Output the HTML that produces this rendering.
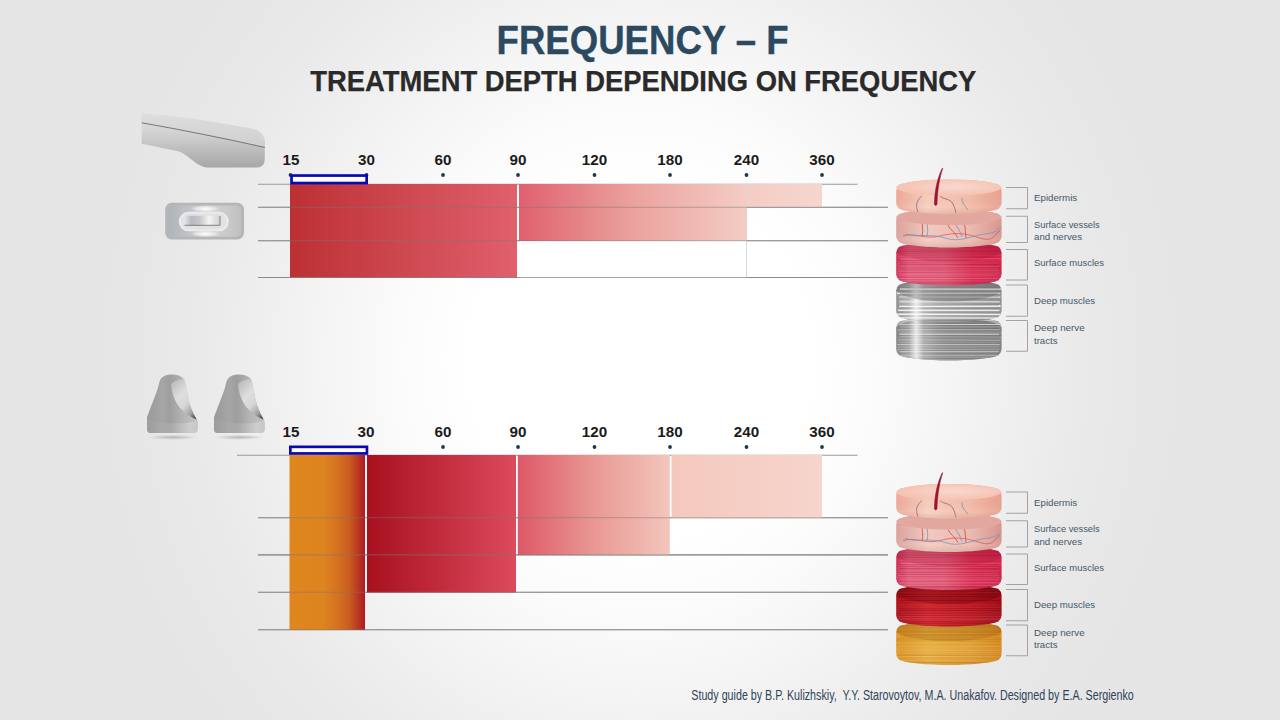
<!DOCTYPE html>
<html><head><meta charset="utf-8">
<style>
html,body{margin:0;padding:0;width:1280px;height:720px;overflow:hidden;}
body{background:radial-gradient(ellipse 600px 630px at 640px 360px,#ffffff 0%,#ffffff 28%,#fbfbfb 40%,#f6f6f6 50%,#f2f2f2 57%,#ededed 67%,#e9e9e9 75%,#e6e6e6 87%,#e5e5e5 100%);font-family:"Liberation Sans",sans-serif;}
svg{position:absolute;left:0;top:0;}
</style></head>
<body>
<svg width="1280" height="720" viewBox="0 0 1280 720" font-family="Liberation Sans, sans-serif">
<defs>
  <linearGradient id="gRed1" x1="0" x2="1" y1="0" y2="0">
    <stop offset="0" stop-color="#bc3034"/><stop offset="1" stop-color="#e0606c"/>
  </linearGradient>
  <linearGradient id="gPink1" x1="0" x2="1" y1="0" y2="0">
    <stop offset="0" stop-color="#e0606e"/><stop offset="0.5" stop-color="#eba29e"/><stop offset="1" stop-color="#f4cdc4"/>
  </linearGradient>
  <linearGradient id="gPale1" x1="0" x2="1" y1="0" y2="0">
    <stop offset="0" stop-color="#f4cdc4"/><stop offset="1" stop-color="#f6d6ce"/>
  </linearGradient>
  <linearGradient id="gOrange" x1="0" x2="1" y1="0" y2="0">
    <stop offset="0" stop-color="#e0861e"/><stop offset="0.45" stop-color="#dd8420"/><stop offset="0.65" stop-color="#d4701f"/><stop offset="0.8" stop-color="#c85a20"/><stop offset="0.9" stop-color="#bc3a22"/><stop offset="1" stop-color="#ac1a24"/>
  </linearGradient>
  <linearGradient id="gRed2" x1="0" x2="1" y1="0" y2="0">
    <stop offset="0" stop-color="#a8101e"/><stop offset="1" stop-color="#dc4a5c"/>
  </linearGradient>
  <linearGradient id="gPink2" x1="0" x2="1" y1="0" y2="0">
    <stop offset="0" stop-color="#de5868"/><stop offset="0.5" stop-color="#e99894"/><stop offset="1" stop-color="#f3c6bc"/>
  </linearGradient>
  <linearGradient id="gPale2" x1="0" x2="1" y1="0" y2="0">
    <stop offset="0" stop-color="#f4c8bd"/><stop offset="1" stop-color="#f6d5cd"/>
  </linearGradient>

  <linearGradient id="vshade" x1="0" x2="0" y1="0" y2="1">
    <stop offset="0" stop-color="#000" stop-opacity="0.10"/><stop offset="0.35" stop-color="#000" stop-opacity="0"/>
    <stop offset="0.8" stop-color="#fff" stop-opacity="0.06"/><stop offset="1" stop-color="#000" stop-opacity="0.08"/>
  </linearGradient>
  <radialGradient id="topface" cx="0.55" cy="0.45" r="0.5">
    <stop offset="0" stop-color="#fff" stop-opacity="0.35"/><stop offset="1" stop-color="#fff" stop-opacity="0"/>
  </radialGradient>
  <linearGradient id="hpTop" x1="0" x2="0" y1="0" y2="1">
    <stop offset="0" stop-color="#dedede"/><stop offset="1" stop-color="#cecece"/>
  </linearGradient>
  <linearGradient id="hpBot" x1="0" x2="0" y1="0" y2="1">
    <stop offset="0" stop-color="#e6e6e6"/><stop offset="0.45" stop-color="#cdcdcd"/><stop offset="1" stop-color="#a6a6a6"/>
  </linearGradient>
  <linearGradient id="hpRing" x1="0" x2="1" y1="0" y2="0">
    <stop offset="0" stop-color="#b0b4ba"/><stop offset="0.3" stop-color="#c0c4c8"/><stop offset="0.55" stop-color="#d4d4d4"/><stop offset="0.8" stop-color="#cacaca"/><stop offset="1" stop-color="#c0c0c0"/>
  </linearGradient>
  <linearGradient id="hpSlot" x1="0" x2="1" y1="0" y2="0">
    <stop offset="0" stop-color="#e8e8ec"/><stop offset="0.2" stop-color="#b8b8c0"/><stop offset="0.45" stop-color="#c8c8cc"/><stop offset="0.7" stop-color="#f4f4f4"/><stop offset="1" stop-color="#d0d0d0"/>
  </linearGradient>
  <linearGradient id="nzBody" x1="0" x2="1" y1="0" y2="0">
    <stop offset="0" stop-color="#999999"/><stop offset="0.3" stop-color="#a6a6a6"/><stop offset="0.45" stop-color="#9e9e9e"/><stop offset="0.7" stop-color="#b4b4b4"/><stop offset="1" stop-color="#c4c4c4"/>
  </linearGradient>
  <linearGradient id="nzScoop" x1="0.2" x2="0.9" y1="0" y2="1">
    <stop offset="0" stop-color="#bdbdbd"/><stop offset="0.35" stop-color="#dedede"/><stop offset="0.6" stop-color="#d6d6d6"/><stop offset="0.85" stop-color="#a0a0a0"/><stop offset="1" stop-color="#4a4a4a"/>
  </linearGradient>
  <linearGradient id="nzBase" x1="0" x2="1" y1="0" y2="0">
    <stop offset="0" stop-color="#a0a0a0"/><stop offset="0.5" stop-color="#b4b4b4"/><stop offset="0.85" stop-color="#e0e0e0"/><stop offset="1" stop-color="#c8c8c8"/>
  </linearGradient>
  <radialGradient id="nzShadow" cx="0.5" cy="0.5" r="0.5">
    <stop offset="0" stop-color="#a0a0a0" stop-opacity="0.7"/><stop offset="1" stop-color="#a0a0a0" stop-opacity="0"/>
  </radialGradient>
  <linearGradient id="grayHL" x1="0" x2="1" y1="0" y2="0">
    <stop offset="0" stop-color="#fff" stop-opacity="0"/><stop offset="0.12" stop-color="#fff" stop-opacity="0.15"/><stop offset="0.19" stop-color="#fff" stop-opacity="0.75"/><stop offset="0.26" stop-color="#fff" stop-opacity="0.15"/><stop offset="0.4" stop-color="#fff" stop-opacity="0"/>
  </linearGradient>
  <linearGradient id="hpRingV" x1="0" x2="0" y1="0" y2="1">
    <stop offset="0" stop-color="#fff" stop-opacity="0.1"/><stop offset="0.18" stop-color="#fff" stop-opacity="0.7"/><stop offset="0.35" stop-color="#fff" stop-opacity="0"/><stop offset="0.7" stop-color="#fff" stop-opacity="0"/><stop offset="0.85" stop-color="#fff" stop-opacity="0.7"/><stop offset="1" stop-color="#fff" stop-opacity="0.1"/>
  </linearGradient>
  <radialGradient id="hlSpot" cx="0.5" cy="0.5" r="0.5">
    <stop offset="0" stop-color="#fff" stop-opacity="0.95"/><stop offset="0.6" stop-color="#fff" stop-opacity="0.5"/><stop offset="1" stop-color="#fff" stop-opacity="0"/>
  </radialGradient>
</defs>

<!-- Titles -->
<text x="642.6" y="54" text-anchor="middle" font-size="40.5" font-weight="bold" fill="#2b4960" stroke="#2b4960" stroke-width="0.35" textLength="292" lengthAdjust="spacingAndGlyphs">FREQUENCY – F</text>
<text x="643.3" y="91.3" text-anchor="middle" font-size="29.5" font-weight="bold" fill="#2a2a2a" stroke="#2a2a2a" stroke-width="0.25" textLength="666" lengthAdjust="spacingAndGlyphs">TREATMENT DEPTH DEPENDING ON FREQUENCY</text>

<!-- ============ TOP CHART ============ -->
<g id="top">
  <g stroke="#9a9a9a" stroke-width="1.1">
    <line x1="258" y1="184.2" x2="857.5" y2="184.2"/>
    <line x1="258" y1="207.2" x2="888" y2="207.2"/>
    <line x1="258" y1="240.8" x2="888" y2="240.8"/>
    <line x1="258" y1="277.5" x2="888" y2="277.5"/>
  </g>
  <!-- bars -->
  <rect x="290" y="184" width="227" height="93.5" fill="url(#gRed1)"/>
  <rect x="519" y="184" width="227.5" height="57" fill="url(#gPink1)"/>
  <rect x="747" y="184" width="75" height="23" fill="url(#gPale1)"/>
  <rect x="519" y="241" width="227.5" height="36.5" fill="#ffffff"/>
  <line x1="746.5" y1="184" x2="746.5" y2="277.5" stroke="#d8d8d8" stroke-width="1"/>
  <!-- lines -->
  <g stroke="#7a7a7a" stroke-width="1.1" stroke-opacity="0.5">
    <line x1="258" y1="207.2" x2="888" y2="207.2"/>
    <line x1="258" y1="240.8" x2="888" y2="240.8"/>
    <line x1="258" y1="277.5" x2="888" y2="277.5"/>
  </g>
  <!-- labels -->
  <g font-size="15.2" font-weight="bold" fill="#1b1b1b" text-anchor="middle">
    <text x="291" y="165">15</text>
    <text x="366.5" y="165">30</text>
    <text x="443" y="165">60</text>
    <text x="518" y="165">90</text>
    <text x="594.5" y="165">120</text>
    <text x="670" y="165">180</text>
    <text x="746.5" y="165">240</text>
    <text x="822" y="165">360</text>
  </g>
  <g fill="#1d3a4c">
    <circle cx="290.5" cy="175" r="1.9"/><circle cx="366.5" cy="175" r="1.9"/><circle cx="443" cy="175" r="1.9"/>
    <circle cx="518" cy="175" r="1.9"/><circle cx="594.5" cy="175" r="1.9"/><circle cx="670" cy="175" r="1.9"/>
    <circle cx="746.5" cy="175" r="1.9"/><circle cx="822" cy="175" r="1.9"/>
  </g>
  <rect x="291.55" y="175.55" width="75.1" height="7.5" fill="#ffffff" stroke="#0808b4" stroke-width="2.7"/>
</g>

<!-- ============ BOTTOM CHART ============ -->
<g id="bottom">
  <g stroke="#9a9a9a" stroke-width="1.1">
    <line x1="237" y1="455.3" x2="857.5" y2="455.3"/>
    <line x1="258" y1="517.8" x2="888" y2="517.8"/>
    <line x1="258" y1="554.9" x2="888" y2="554.9"/>
    <line x1="258" y1="592.2" x2="888" y2="592.2"/>
    <line x1="258" y1="629.8" x2="888" y2="629.8"/>
  </g>
  <rect x="289.5" y="455" width="75.5" height="175" fill="url(#gOrange)"/>
  <rect x="367" y="455" width="149" height="137.5" fill="url(#gRed2)"/>
  <rect x="517.8" y="455" width="152" height="100" fill="url(#gPink2)"/>
  <rect x="671.5" y="455" width="150.5" height="63" fill="url(#gPale2)"/>
  <g stroke="#7a7a7a" stroke-width="1.1" stroke-opacity="0.5">
    <line x1="258" y1="517.8" x2="888" y2="517.8"/>
    <line x1="258" y1="554.9" x2="888" y2="554.9"/>
    <line x1="258" y1="592.2" x2="888" y2="592.2"/>
    <line x1="258" y1="629.8" x2="888" y2="629.8"/>
  </g>
  <g font-size="15.2" font-weight="bold" fill="#1b1b1b" text-anchor="middle">
    <text x="291" y="437">15</text>
    <text x="366" y="437">30</text>
    <text x="443" y="437">60</text>
    <text x="518" y="437">90</text>
    <text x="594.5" y="437">120</text>
    <text x="670" y="437">180</text>
    <text x="746.5" y="437">240</text>
    <text x="822" y="437">360</text>
  </g>
  <g fill="#1d3a4c">
    <circle cx="443" cy="447" r="1.9"/>
    <circle cx="518" cy="447" r="1.9"/><circle cx="594.5" cy="447" r="1.9"/><circle cx="670" cy="447" r="1.9"/>
    <circle cx="746.5" cy="447" r="1.9"/><circle cx="822" cy="447" r="1.9"/>
  </g>
  <rect x="290.35" y="446.85" width="76.6" height="6.6" fill="#ffffff" stroke="#0808b4" stroke-width="2.7"/>
</g>


<!-- devices -->
<g id="handpiece">
  <path d="M141.7,113 Q200,118.5 252,128.8 Q264.8,131.5 264.8,143 L264.8,159 Q264.8,167.5 256.6,167.5 L209,167.5 C196,167.5 188,153 176.9,150.9 L141.7,143.7 Z" fill="url(#hpBot)"/>
  <path d="M141.7,113 Q200,118.5 252,128.8 Q264.8,131.5 264.8,143 L264.8,147.4 Q200,133 141.7,122.8 Z" fill="url(#hpTop)"/>
  <path d="M141.7,122.8 Q200,133 264.8,147.4" stroke="#6a6a6a" stroke-width="0.9" fill="none"/>
</g>
<g id="tip">
  <rect x="165.2" y="202.8" width="78.8" height="36.7" rx="6.5" fill="#b6b6b6"/>
  <rect x="168" y="205.5" width="73.2" height="31.3" rx="4.5" fill="url(#hpRing)"/>
  <ellipse cx="205" cy="208.8" rx="15" ry="3.2" fill="url(#hlSpot)"/>
  <ellipse cx="205" cy="233.8" rx="15" ry="3.2" fill="url(#hlSpot)"/>
  <rect x="178.8" y="211.8" width="50" height="19.5" rx="9.7" fill="#ececec"/>
  <rect x="181" y="213.5" width="45.6" height="16.1" rx="8" fill="#e2e2e2"/>
  <rect x="184" y="215.7" width="36" height="9.8" rx="1" fill="url(#hpSlot)"/>
  <path d="M184.5,225.3 H220 V216" stroke="#6a6a6a" stroke-width="0.8" fill="none"/>
</g>
<g id="nozzle">
  <ellipse cx="172.5" cy="437.3" rx="25" ry="2.6" fill="url(#nzShadow)"/>
  <path d="M150.5,433 Q147,433 147,429 L147,417.5 C149.5,410 154.5,398 157.6,389 C159,384 159.5,380.5 161,378.6 C164,375.2 167.5,374.4 172,374.4 C177,374.4 181,375.6 184,379 C185.6,383 186.6,389 188,397 C189.6,405 192,412.5 196,418 Q197.8,420.2 197.8,423 L197.8,429 Q197.8,433 194,433 Z" fill="url(#nzBody)"/>
  <path d="M171,384.5 C172,395 176,405 184,411.8 C188,415 192,418 196.6,419.4 C192.5,412.5 189.6,405 188,397 C186.6,389 185.6,383 184,379 C179.5,379.2 174.5,380.5 171,384.5 Z" fill="url(#nzScoop)"/>
  <path d="M147,418.5 C160,424.5 184,425 197.8,420.5 L197.8,429 Q197.8,433 194,433 L150.5,433 Q147,433 147,429 Z" fill="url(#nzBase)" opacity="0.5"/>
</g>
<use href="#nozzle" transform="translate(67,0)"/>

<linearGradient id="aside5" x1="0" x2="1" y1="0" y2="0"><stop offset="0" stop-color="#868686"/><stop offset="0.2" stop-color="#a8a8a8"/><stop offset="0.5" stop-color="#8e8e8e"/><stop offset="1" stop-color="#848484"/></linearGradient>
<clipPath id="aclip5"><path d="M896.2,327.50 V349.50 Q896.2,352.50 899.20,355.16 A52.69999999999999,8.0 0 0 0 998.60,355.16 Q1001.6,352.50 1001.6,349.50 V327.50 Q1001.6,324.50 998.60,321.84 A52.69999999999999,8.0 0 0 0 899.20,321.84 Q896.2,324.50 896.2,327.50 Z"/></clipPath>
<path d="M896.2,327.50 V349.50 Q896.2,352.50 899.20,355.16 A52.69999999999999,8.0 0 0 0 998.60,355.16 Q1001.6,352.50 1001.6,349.50 V327.50 Q1001.6,324.50 998.60,321.84 A52.69999999999999,8.0 0 0 0 899.20,321.84 Q896.2,324.50 896.2,327.50 Z" fill="url(#aside5)"/>
<g clip-path="url(#aclip5)"><path d="M898.7,318.10 L1000.2,317.87" stroke="#ffffff" stroke-width="0.58" stroke-opacity="0.73" fill="none"/>
<path d="M898.2,320.97 L1000.9,320.57" stroke="#ffffff" stroke-width="0.90" stroke-opacity="0.63" fill="none"/>
<path d="M899.4,323.16 L1000.9,322.95" stroke="#ffffff" stroke-width="0.79" stroke-opacity="0.39" fill="none"/>
<path d="M899.7,324.83 L999.8,324.46" stroke="#ffffff" stroke-width="1.00" stroke-opacity="0.76" fill="none"/>
<path d="M900.0,326.96 L1000.5,326.68" stroke="#ffffff" stroke-width="0.75" stroke-opacity="0.41" fill="none"/>
<path d="M898.0,329.86 L999.9,329.74" stroke="#ffffff" stroke-width="0.56" stroke-opacity="0.86" fill="none"/>
<path d="M899.7,332.24 L1000.9,332.46" stroke="#ffffff" stroke-width="0.59" stroke-opacity="0.37" fill="none"/>
<path d="M899.2,334.17 L999.3,334.24" stroke="#ffffff" stroke-width="0.98" stroke-opacity="0.84" fill="none"/>
<path d="M899.5,336.94 L1001.0,337.28" stroke="#ffffff" stroke-width="0.56" stroke-opacity="0.61" fill="none"/>
<path d="M898.0,339.96 L1000.4,340.36" stroke="#ffffff" stroke-width="0.70" stroke-opacity="0.55" fill="none"/>
<path d="M899.1,342.18 L998.6,342.18" stroke="#ffffff" stroke-width="0.51" stroke-opacity="0.40" fill="none"/>
<path d="M897.1,344.57 L999.8,344.61" stroke="#ffffff" stroke-width="0.78" stroke-opacity="0.76" fill="none"/>
<path d="M897.6,347.16 L998.8,347.04" stroke="#ffffff" stroke-width="0.59" stroke-opacity="0.44" fill="none"/>
<path d="M896.5,349.72 L999.2,349.94" stroke="#ffffff" stroke-width="0.65" stroke-opacity="0.41" fill="none"/>
<path d="M899.8,351.92 L998.7,351.84" stroke="#ffffff" stroke-width="0.84" stroke-opacity="0.72" fill="none"/>
<path d="M899.7,355.10 L1000.1,355.00" stroke="#ffffff" stroke-width="0.98" stroke-opacity="0.67" fill="none"/>
<path d="M896.5,357.10 L999.2,357.31" stroke="#ffffff" stroke-width="0.94" stroke-opacity="0.44" fill="none"/>
<path d="M897.2,359.47 L1000.7,359.40" stroke="#ffffff" stroke-width="0.92" stroke-opacity="0.38" fill="none"/>
<path d="M896.3,318.10 L998.6,317.85" stroke="#505050" stroke-width="0.49" stroke-opacity="0.47" fill="none"/>
<path d="M899.8,319.78 L1000.9,320.15" stroke="#505050" stroke-width="0.41" stroke-opacity="0.57" fill="none"/>
<path d="M898.9,321.76 L998.8,321.93" stroke="#505050" stroke-width="0.40" stroke-opacity="0.87" fill="none"/>
<path d="M897.4,323.33 L1001.0,323.61" stroke="#505050" stroke-width="0.47" stroke-opacity="0.69" fill="none"/>
<path d="M900.0,325.71 L999.9,325.87" stroke="#505050" stroke-width="0.48" stroke-opacity="0.79" fill="none"/>
<path d="M897.4,328.13 L999.3,328.49" stroke="#505050" stroke-width="0.31" stroke-opacity="0.88" fill="none"/>
<path d="M898.9,330.60 L1001.0,330.24" stroke="#505050" stroke-width="0.29" stroke-opacity="0.81" fill="none"/>
<path d="M898.2,332.90 L1000.0,332.83" stroke="#505050" stroke-width="0.26" stroke-opacity="0.86" fill="none"/>
<path d="M897.7,335.39 L999.9,335.23" stroke="#505050" stroke-width="0.48" stroke-opacity="0.55" fill="none"/>
<path d="M898.9,337.78 L1000.0,337.45" stroke="#505050" stroke-width="0.39" stroke-opacity="0.62" fill="none"/>
<path d="M897.8,340.78 L998.8,341.14" stroke="#505050" stroke-width="0.34" stroke-opacity="0.62" fill="none"/>
<path d="M899.8,343.05 L1001.1,343.08" stroke="#505050" stroke-width="0.35" stroke-opacity="0.45" fill="none"/>
<path d="M897.0,345.07 L1001.5,345.10" stroke="#505050" stroke-width="0.33" stroke-opacity="0.58" fill="none"/>
<path d="M899.0,347.76 L1001.4,347.69" stroke="#505050" stroke-width="0.41" stroke-opacity="0.50" fill="none"/>
<path d="M899.6,350.51 L1000.1,350.53" stroke="#505050" stroke-width="0.48" stroke-opacity="0.63" fill="none"/>
<path d="M898.1,352.88 L999.4,353.00" stroke="#505050" stroke-width="0.50" stroke-opacity="0.77" fill="none"/>
<path d="M898.6,354.91 L998.8,354.53" stroke="#505050" stroke-width="0.45" stroke-opacity="0.81" fill="none"/>
<path d="M896.9,357.16 L999.5,357.11" stroke="#505050" stroke-width="0.41" stroke-opacity="0.57" fill="none"/>
<path d="M897.6,359.07 L1001.2,358.84" stroke="#505050" stroke-width="0.26" stroke-opacity="0.88" fill="none"/>
<rect x="896.2" y="316.5" width="105.39999999999998" height="44.0" fill="url(#vshade)"/>
<rect x="896.2" y="306.5" width="105.39999999999998" height="64.0" fill="url(#grayHL)"/><path d="M896.2,324.5 A52.69999999999999,8.0 0 0 1 1001.6,324.5 L1001.6,328.5 A52.69999999999999,11.0 0 0 0 896.2,328.5 Z" fill="#ffffff" opacity="0.35"/></g>
<linearGradient id="aside4" x1="0" x2="1" y1="0" y2="0"><stop offset="0" stop-color="#949494"/><stop offset="0.2" stop-color="#bababa"/><stop offset="0.5" stop-color="#a8a8a8"/><stop offset="1" stop-color="#929292"/></linearGradient>
<clipPath id="aclip4"><path d="M896.2,290.50 V311.00 Q896.2,314.00 899.20,316.66 A52.69999999999999,8.0 0 0 0 998.60,316.66 Q1001.6,314.00 1001.6,311.00 V290.50 Q1001.6,287.50 998.60,284.84 A52.69999999999999,8.0 0 0 0 899.20,284.84 Q896.2,287.50 896.2,290.50 Z"/></clipPath>
<path d="M896.2,290.50 V311.00 Q896.2,314.00 899.20,316.66 A52.69999999999999,8.0 0 0 0 998.60,316.66 Q1001.6,314.00 1001.6,311.00 V290.50 Q1001.6,287.50 998.60,284.84 A52.69999999999999,8.0 0 0 0 899.20,284.84 Q896.2,287.50 896.2,290.50 Z" fill="url(#aside4)"/>
<g clip-path="url(#aclip4)"><path d="M899.8,289.10 L1001.3,289.17" stroke="#ffffff" stroke-width="2.04" stroke-opacity="0.99" fill="none"/>
<path d="M897.0,293.06 L1000.3,292.84" stroke="#ffffff" stroke-width="1.72" stroke-opacity="0.83" fill="none"/>
<path d="M899.0,297.08 L1000.3,297.09" stroke="#ffffff" stroke-width="1.32" stroke-opacity="0.82" fill="none"/>
<path d="M899.3,301.60 L999.8,301.73" stroke="#ffffff" stroke-width="1.59" stroke-opacity="0.81" fill="none"/>
<path d="M899.2,305.92 L1000.5,305.98" stroke="#ffffff" stroke-width="2.08" stroke-opacity="0.87" fill="none"/>
<path d="M898.1,310.31 L999.4,310.38" stroke="#ffffff" stroke-width="1.55" stroke-opacity="0.82" fill="none"/>
<path d="M896.9,314.32 L1000.6,314.57" stroke="#ffffff" stroke-width="1.81" stroke-opacity="0.84" fill="none"/>
<path d="M896.4,317.87 L1000.8,317.93" stroke="#ffffff" stroke-width="1.39" stroke-opacity="0.82" fill="none"/>
<path d="M896.9,283.50 L998.6,283.26" stroke="#6a6a6a" stroke-width="0.68" stroke-opacity="0.55" fill="none"/>
<path d="M896.8,287.84 L999.5,288.02" stroke="#6a6a6a" stroke-width="0.44" stroke-opacity="0.53" fill="none"/>
<path d="M900.2,292.37 L1001.3,292.39" stroke="#6a6a6a" stroke-width="0.58" stroke-opacity="0.56" fill="none"/>
<path d="M897.4,297.29 L998.7,296.96" stroke="#6a6a6a" stroke-width="0.70" stroke-opacity="0.43" fill="none"/>
<path d="M897.5,301.81 L1000.7,301.84" stroke="#6a6a6a" stroke-width="0.74" stroke-opacity="0.35" fill="none"/>
<path d="M897.5,305.55 L998.9,305.20" stroke="#6a6a6a" stroke-width="0.76" stroke-opacity="0.58" fill="none"/>
<path d="M899.5,308.74 L998.6,309.03" stroke="#6a6a6a" stroke-width="0.67" stroke-opacity="0.54" fill="none"/>
<path d="M896.6,312.27 L1000.1,312.00" stroke="#6a6a6a" stroke-width="0.70" stroke-opacity="0.58" fill="none"/>
<path d="M900.1,315.56 L1001.2,315.56" stroke="#6a6a6a" stroke-width="0.59" stroke-opacity="0.50" fill="none"/>
<path d="M897.2,320.55 L999.7,320.36" stroke="#6a6a6a" stroke-width="0.71" stroke-opacity="0.46" fill="none"/>
<rect x="896.2" y="279.5" width="105.39999999999998" height="42.5" fill="url(#vshade)"/>
<rect x="896.2" y="269.5" width="105.39999999999998" height="62.5" fill="url(#grayHL)"/><path d="M896.2,279.5 L1001.6,279.5 L1001.6,289.5 A52.69999999999999,12.0 0 0 1 896.2,289.5 Z" fill="#5a5a5a" opacity="0.35"/></g>
<linearGradient id="aside3" x1="0" x2="1" y1="0" y2="0"><stop offset="0" stop-color="#d6305a"/><stop offset="0.12" stop-color="#e8607e"/><stop offset="0.45" stop-color="#e65c7a"/><stop offset="0.72" stop-color="#e02e54"/><stop offset="1" stop-color="#d4244a"/></linearGradient>
<clipPath id="aclip3"><path d="M896.2,252.50 V274.50 Q896.2,277.50 899.20,280.16 A52.69999999999999,8.0 0 0 0 998.60,280.16 Q1001.6,277.50 1001.6,274.50 V252.50 Q1001.6,249.50 998.60,246.84 A52.69999999999999,8.0 0 0 0 899.20,246.84 Q896.2,249.50 896.2,252.50 Z"/></clipPath>
<path d="M896.2,252.50 V274.50 Q896.2,277.50 899.20,280.16 A52.69999999999999,8.0 0 0 0 998.60,280.16 Q1001.6,277.50 1001.6,274.50 V252.50 Q1001.6,249.50 998.60,246.84 A52.69999999999999,8.0 0 0 0 899.20,246.84 Q896.2,249.50 896.2,252.50 Z" fill="url(#aside3)"/>
<g clip-path="url(#aclip3)"><path d="M897.8,247.90 L999.5,247.61" stroke="#9a1030" stroke-width="0.30" stroke-opacity="0.44" fill="none"/>
<path d="M896.8,249.61 L999.4,249.74" stroke="#9a1030" stroke-width="0.37" stroke-opacity="0.70" fill="none"/>
<path d="M897.9,251.35 L998.6,251.02" stroke="#9a1030" stroke-width="0.46" stroke-opacity="0.58" fill="none"/>
<path d="M897.0,252.97 L1000.6,252.86" stroke="#9a1030" stroke-width="0.58" stroke-opacity="0.56" fill="none"/>
<path d="M898.5,255.52 L1000.0,255.89" stroke="#9a1030" stroke-width="0.36" stroke-opacity="0.49" fill="none"/>
<path d="M899.5,257.96 L998.6,257.59" stroke="#9a1030" stroke-width="0.41" stroke-opacity="0.48" fill="none"/>
<path d="M897.1,260.30 L999.2,260.48" stroke="#9a1030" stroke-width="0.56" stroke-opacity="0.66" fill="none"/>
<path d="M896.4,262.09 L1000.6,261.96" stroke="#9a1030" stroke-width="0.49" stroke-opacity="0.49" fill="none"/>
<path d="M900.0,264.09 L998.7,264.48" stroke="#9a1030" stroke-width="0.49" stroke-opacity="0.73" fill="none"/>
<path d="M898.7,266.48 L1000.0,266.62" stroke="#9a1030" stroke-width="0.39" stroke-opacity="0.47" fill="none"/>
<path d="M898.6,268.17 L999.5,267.85" stroke="#9a1030" stroke-width="0.36" stroke-opacity="0.77" fill="none"/>
<path d="M900.2,270.17 L1001.0,270.13" stroke="#9a1030" stroke-width="0.57" stroke-opacity="0.66" fill="none"/>
<path d="M898.4,272.57 L1001.2,272.25" stroke="#9a1030" stroke-width="0.43" stroke-opacity="0.72" fill="none"/>
<path d="M897.5,275.15 L999.5,275.44" stroke="#9a1030" stroke-width="0.34" stroke-opacity="0.48" fill="none"/>
<path d="M897.3,277.23 L1000.5,277.32" stroke="#9a1030" stroke-width="0.45" stroke-opacity="0.72" fill="none"/>
<path d="M896.8,279.47 L999.4,279.62" stroke="#9a1030" stroke-width="0.31" stroke-opacity="0.44" fill="none"/>
<path d="M899.3,282.04 L998.6,281.92" stroke="#9a1030" stroke-width="0.53" stroke-opacity="0.50" fill="none"/>
<path d="M896.9,283.65 L1001.5,283.35" stroke="#9a1030" stroke-width="0.41" stroke-opacity="0.51" fill="none"/>
<path d="M897.4,249.50 L998.9,249.50" stroke="#ffa0b4" stroke-width="0.27" stroke-opacity="0.49" fill="none"/>
<path d="M899.6,252.58 L1000.0,252.94" stroke="#ffa0b4" stroke-width="0.28" stroke-opacity="0.60" fill="none"/>
<path d="M899.2,255.90 L1001.2,255.51" stroke="#ffa0b4" stroke-width="0.34" stroke-opacity="0.40" fill="none"/>
<path d="M900.0,259.00 L1001.0,258.66" stroke="#ffa0b4" stroke-width="0.46" stroke-opacity="0.73" fill="none"/>
<path d="M896.8,261.18 L1001.5,260.82" stroke="#ffa0b4" stroke-width="0.49" stroke-opacity="0.44" fill="none"/>
<path d="M897.4,263.24 L998.8,262.97" stroke="#ffa0b4" stroke-width="0.34" stroke-opacity="0.47" fill="none"/>
<path d="M898.5,266.46 L999.3,266.53" stroke="#ffa0b4" stroke-width="0.43" stroke-opacity="0.63" fill="none"/>
<path d="M897.8,268.80 L998.6,268.74" stroke="#ffa0b4" stroke-width="0.33" stroke-opacity="0.50" fill="none"/>
<path d="M898.0,270.91 L999.5,270.58" stroke="#ffa0b4" stroke-width="0.37" stroke-opacity="0.73" fill="none"/>
<path d="M897.4,273.00 L1000.4,272.76" stroke="#ffa0b4" stroke-width="0.42" stroke-opacity="0.42" fill="none"/>
<path d="M899.0,275.06 L998.7,275.05" stroke="#ffa0b4" stroke-width="0.25" stroke-opacity="0.78" fill="none"/>
<path d="M898.3,278.49 L1000.1,278.27" stroke="#ffa0b4" stroke-width="0.47" stroke-opacity="0.65" fill="none"/>
<path d="M899.6,281.05 L1000.1,281.13" stroke="#ffa0b4" stroke-width="0.43" stroke-opacity="0.48" fill="none"/>
<path d="M897.2,284.28 L1001.6,283.91" stroke="#ffa0b4" stroke-width="0.41" stroke-opacity="0.46" fill="none"/>
<rect x="896.2" y="241.5" width="105.39999999999998" height="44.0" fill="url(#vshade)"/>
<path d="M896.2,241.5 L1001.6,241.5 L1001.6,250.5 A52.69999999999999,11.0 0 0 1 896.2,250.5 Z" fill="#8a0a28" opacity="0.18"/></g>
<linearGradient id="aside2" x1="0" x2="1" y1="0" y2="0"><stop offset="0" stop-color="#dca49c"/><stop offset="0.3" stop-color="#f4cbc0"/><stop offset="0.7" stop-color="#eebcb2"/><stop offset="1" stop-color="#d8988e"/></linearGradient>
<clipPath id="aclip2"><path d="M896.2,220.00 V236.50 Q896.2,239.50 899.20,242.16 A52.69999999999999,8.0 0 0 0 998.60,242.16 Q1001.6,239.50 1001.6,236.50 V220.00 Q1001.6,217.00 998.60,214.34 A52.69999999999999,8.0 0 0 0 899.20,214.34 Q896.2,217.00 896.2,220.00 Z"/></clipPath>
<path d="M896.2,220.00 V236.50 Q896.2,239.50 899.20,242.16 A52.69999999999999,8.0 0 0 0 998.60,242.16 Q1001.6,239.50 1001.6,236.50 V220.00 Q1001.6,217.00 998.60,214.34 A52.69999999999999,8.0 0 0 0 899.20,214.34 Q896.2,217.00 896.2,220.00 Z" fill="url(#aside2)"/>
<g clip-path="url(#aclip2)"><rect x="896.2" y="209.0" width="105.39999999999998" height="38.5" fill="url(#vshade)"/>
<path d="M903,236 C915,232 925,240 940,236 S965,233 980,238 S995,232 1000,231" stroke="#d04848" stroke-width="0.8" fill="none" opacity=".8"/><path d="M905,234 C918,238 930,233 945,238 S970,236 985,234 S996,229 1001,228" stroke="#6a98c8" stroke-width="0.9" fill="none" opacity=".85"/><path d="M922,236 C924,230 921,226 923,222" stroke="#d04848" stroke-width="0.8" fill="none"/><path d="M927,236 C929,230 926,225 928,221" stroke="#6a98c8" stroke-width="0.8" fill="none"/><path d="M958,238 C955,232 950,230 948,225" stroke="#d04848" stroke-width="0.8" fill="none"/><path d="M962,237 C960,231 958,228 955,224" stroke="#6a98c8" stroke-width="0.8" fill="none"/><path d="M966,238 C965,232 966,228 964,224" stroke="#d04848" stroke-width="0.8" fill="none"/></g>
<ellipse cx="948.9000000000001" cy="217.0" rx="52.69999999999999" ry="8.0" fill="#e2a8a0"/>
<linearGradient id="aside1" x1="0" x2="1" y1="0" y2="0"><stop offset="0" stop-color="#eeaa98"/><stop offset="0.3" stop-color="#f8cfc0"/><stop offset="0.7" stop-color="#f4bcaa"/><stop offset="1" stop-color="#eaa290"/></linearGradient>
<clipPath id="aclip1"><path d="M896.2,190.50 V203.00 Q896.2,206.00 899.20,208.66 A52.69999999999999,8.0 0 0 0 998.60,208.66 Q1001.6,206.00 1001.6,203.00 V190.50 Q1001.6,187.50 998.60,184.84 A52.69999999999999,8.0 0 0 0 899.20,184.84 Q896.2,187.50 896.2,190.50 Z"/></clipPath>
<path d="M896.2,190.50 V203.00 Q896.2,206.00 899.20,208.66 A52.69999999999999,8.0 0 0 0 998.60,208.66 Q1001.6,206.00 1001.6,203.00 V190.50 Q1001.6,187.50 998.60,184.84 A52.69999999999999,8.0 0 0 0 899.20,184.84 Q896.2,187.50 896.2,190.50 Z" fill="url(#aside1)"/>
<g clip-path="url(#aclip1)"><rect x="896.2" y="179.5" width="105.39999999999998" height="34.5" fill="url(#vshade)"/>
<path d="M918,212 C915,205 917,200 922,196" stroke="#8a6a8a" stroke-width="0.8" fill="none"/><path d="M940,196 C944,200 950,198 953,204 S955,211 956,213" stroke="#a05a6a" stroke-width="0.8" fill="none"/><path d="M962,198 C962,203 965,206 968,210" stroke="#7a90b8" stroke-width="0.8" fill="none"/></g>
<ellipse cx="948.9000000000001" cy="187.5" rx="52.69999999999999" ry="8.0" fill="#f6c4b4"/>
<ellipse cx="948.9000000000001" cy="187.5" rx="52.69999999999999" ry="8.0" fill="url(#topface)"/>
<path d="M942.8,168.3 C939.5,178 937.4,190 937,204.5 Q935.6,206.5 934.4,204.5 C934.6,190 937.5,178 942.2,168.3 Z" fill="#9c1430" stroke="#9c1430" stroke-width="0.5"/>
<path d="M1006,187.5 H1027.5 V208.75 H1006" stroke="#9a9a9a" stroke-width="0.9" fill="none"/>
<path d="M1006,216.25 H1027.5 V242.5 H1006" stroke="#9a9a9a" stroke-width="0.9" fill="none"/>
<path d="M1006,249.5 H1027.5 V280 H1006" stroke="#9a9a9a" stroke-width="0.9" fill="none"/>
<path d="M1006,285 H1027.5 V316.25 H1006" stroke="#9a9a9a" stroke-width="0.9" fill="none"/>
<path d="M1006,320.5 H1027.5 V351.25 H1006" stroke="#9a9a9a" stroke-width="0.9" fill="none"/>
<text x="1034" y="201.3" font-size="9.9" fill="#44586a" textLength="43.2" lengthAdjust="spacingAndGlyphs">Epidermis</text>
<text x="1034" y="227.5" font-size="9.9" fill="#44586a" textLength="65.7" lengthAdjust="spacingAndGlyphs">Surface vessels</text>
<text x="1034" y="240" font-size="9.9" fill="#44586a" textLength="48" lengthAdjust="spacingAndGlyphs">and nerves</text>
<text x="1034" y="266" font-size="9.9" fill="#44586a" textLength="70" lengthAdjust="spacingAndGlyphs">Surface muscles</text>
<text x="1034" y="303.8" font-size="9.9" fill="#44586a" textLength="61.2" lengthAdjust="spacingAndGlyphs">Deep muscles</text>
<text x="1034" y="331.3" font-size="9.9" fill="#44586a" textLength="50.7" lengthAdjust="spacingAndGlyphs">Deep nerve</text>
<text x="1034" y="343.8" font-size="9.9" fill="#44586a" textLength="23.5" lengthAdjust="spacingAndGlyphs">tracts</text>
<linearGradient id="bside5" x1="0" x2="1" y1="0" y2="0"><stop offset="0" stop-color="#e39a2a"/><stop offset="0.3" stop-color="#f2bb4a"/><stop offset="0.7" stop-color="#e8a83a"/><stop offset="1" stop-color="#d98c22"/></linearGradient>
<clipPath id="bclip5"><path d="M896.2,632.00 V654.00 Q896.2,657.00 899.20,659.66 A52.69999999999999,8.0 0 0 0 998.60,659.66 Q1001.6,657.00 1001.6,654.00 V632.00 Q1001.6,629.00 998.60,626.34 A52.69999999999999,8.0 0 0 0 899.20,626.34 Q896.2,629.00 896.2,632.00 Z"/></clipPath>
<path d="M896.2,632.00 V654.00 Q896.2,657.00 899.20,659.66 A52.69999999999999,8.0 0 0 0 998.60,659.66 Q1001.6,657.00 1001.6,654.00 V632.00 Q1001.6,629.00 998.60,626.34 A52.69999999999999,8.0 0 0 0 899.20,626.34 Q896.2,629.00 896.2,632.00 Z" fill="url(#bside5)"/>
<g clip-path="url(#bclip5)"><path d="M899.9,625.80 L1000.2,625.81" stroke="#b86a10" stroke-width="0.51" stroke-opacity="0.68" fill="none"/>
<path d="M898.7,627.59 L999.2,627.26" stroke="#b86a10" stroke-width="0.41" stroke-opacity="0.66" fill="none"/>
<path d="M899.0,629.09 L1001.5,629.48" stroke="#b86a10" stroke-width="0.38" stroke-opacity="0.80" fill="none"/>
<path d="M896.8,631.26 L1001.6,631.28" stroke="#b86a10" stroke-width="0.58" stroke-opacity="0.71" fill="none"/>
<path d="M896.3,632.52 L1000.2,632.47" stroke="#b86a10" stroke-width="0.42" stroke-opacity="0.52" fill="none"/>
<path d="M898.2,634.56 L999.6,634.52" stroke="#b86a10" stroke-width="0.53" stroke-opacity="0.72" fill="none"/>
<path d="M899.6,636.04 L999.5,635.89" stroke="#b86a10" stroke-width="0.70" stroke-opacity="0.90" fill="none"/>
<path d="M899.3,637.47 L1000.4,637.74" stroke="#b86a10" stroke-width="0.45" stroke-opacity="0.44" fill="none"/>
<path d="M896.2,639.05 L1001.0,639.38" stroke="#b86a10" stroke-width="0.69" stroke-opacity="0.82" fill="none"/>
<path d="M896.5,640.72 L999.7,640.94" stroke="#b86a10" stroke-width="0.69" stroke-opacity="0.60" fill="none"/>
<path d="M900.1,642.19 L999.3,641.89" stroke="#b86a10" stroke-width="0.38" stroke-opacity="0.57" fill="none"/>
<path d="M899.4,643.64 L1001.1,643.69" stroke="#b86a10" stroke-width="0.39" stroke-opacity="0.43" fill="none"/>
<path d="M896.7,645.29 L999.7,644.98" stroke="#b86a10" stroke-width="0.42" stroke-opacity="0.77" fill="none"/>
<path d="M900.1,646.91 L999.2,646.75" stroke="#b86a10" stroke-width="0.42" stroke-opacity="0.53" fill="none"/>
<path d="M899.6,648.99 L999.7,648.67" stroke="#b86a10" stroke-width="0.42" stroke-opacity="0.60" fill="none"/>
<path d="M899.3,651.18 L1000.6,651.02" stroke="#b86a10" stroke-width="0.42" stroke-opacity="0.53" fill="none"/>
<path d="M897.2,652.45 L999.8,652.35" stroke="#b86a10" stroke-width="0.38" stroke-opacity="0.69" fill="none"/>
<path d="M898.5,654.11 L999.0,653.85" stroke="#b86a10" stroke-width="0.69" stroke-opacity="0.64" fill="none"/>
<path d="M897.2,655.46 L1001.0,655.65" stroke="#b86a10" stroke-width="0.67" stroke-opacity="0.81" fill="none"/>
<path d="M899.7,657.60 L999.8,657.54" stroke="#b86a10" stroke-width="0.42" stroke-opacity="0.88" fill="none"/>
<path d="M897.2,658.91 L999.5,658.71" stroke="#b86a10" stroke-width="0.36" stroke-opacity="0.88" fill="none"/>
<path d="M896.9,660.93 L999.4,660.58" stroke="#b86a10" stroke-width="0.56" stroke-opacity="0.55" fill="none"/>
<path d="M898.7,662.36 L1000.8,662.69" stroke="#b86a10" stroke-width="0.55" stroke-opacity="0.83" fill="none"/>
<path d="M898.0,663.76 L1001.4,663.50" stroke="#b86a10" stroke-width="0.36" stroke-opacity="0.53" fill="none"/>
<path d="M898.9,627.40 L1001.2,627.01" stroke="#ffe08a" stroke-width="0.42" stroke-opacity="0.56" fill="none"/>
<path d="M899.0,629.46 L999.8,629.51" stroke="#ffe08a" stroke-width="0.35" stroke-opacity="0.62" fill="none"/>
<path d="M896.8,631.95 L998.9,631.60" stroke="#ffe08a" stroke-width="0.30" stroke-opacity="0.48" fill="none"/>
<path d="M897.5,634.68 L1000.4,634.96" stroke="#ffe08a" stroke-width="0.28" stroke-opacity="0.57" fill="none"/>
<path d="M898.2,636.21 L1001.3,636.60" stroke="#ffe08a" stroke-width="0.27" stroke-opacity="0.67" fill="none"/>
<path d="M896.7,639.13 L1000.7,639.23" stroke="#ffe08a" stroke-width="0.29" stroke-opacity="0.47" fill="none"/>
<path d="M896.9,640.88 L999.2,640.80" stroke="#ffe08a" stroke-width="0.49" stroke-opacity="0.32" fill="none"/>
<path d="M897.7,643.00 L1001.5,643.18" stroke="#ffe08a" stroke-width="0.46" stroke-opacity="0.49" fill="none"/>
<path d="M897.6,645.96 L1000.5,646.11" stroke="#ffe08a" stroke-width="0.59" stroke-opacity="0.57" fill="none"/>
<path d="M897.7,648.47 L1000.1,648.71" stroke="#ffe08a" stroke-width="0.29" stroke-opacity="0.39" fill="none"/>
<path d="M897.9,650.72 L1000.0,650.49" stroke="#ffe08a" stroke-width="0.26" stroke-opacity="0.63" fill="none"/>
<path d="M896.6,652.86 L1000.0,652.60" stroke="#ffe08a" stroke-width="0.39" stroke-opacity="0.61" fill="none"/>
<path d="M897.6,655.40 L999.7,655.04" stroke="#ffe08a" stroke-width="0.26" stroke-opacity="0.41" fill="none"/>
<path d="M898.1,657.59 L998.7,657.57" stroke="#ffe08a" stroke-width="0.32" stroke-opacity="0.41" fill="none"/>
<path d="M897.7,660.52 L1001.0,660.72" stroke="#ffe08a" stroke-width="0.31" stroke-opacity="0.67" fill="none"/>
<path d="M899.3,663.39 L1000.6,663.18" stroke="#ffe08a" stroke-width="0.25" stroke-opacity="0.41" fill="none"/>
<path d="M900.1,664.90 L998.6,664.91" stroke="#ffe08a" stroke-width="0.26" stroke-opacity="0.55" fill="none"/>
<rect x="896.2" y="621.0" width="105.39999999999998" height="44.0" fill="url(#vshade)"/>
<path d="M896.2,621.0 L1001.6,621.0 L1001.6,630.0 A52.69999999999999,11.0 0 0 1 896.2,630.0 Z" fill="#8a4a00" opacity="0.25"/></g>
<linearGradient id="bside4" x1="0" x2="1" y1="0" y2="0"><stop offset="0" stop-color="#b0101c"/><stop offset="0.3" stop-color="#d8262e"/><stop offset="0.7" stop-color="#c41822"/><stop offset="1" stop-color="#a00c18"/></linearGradient>
<clipPath id="bclip4"><path d="M896.2,595.00 V615.50 Q896.2,618.50 899.20,621.16 A52.69999999999999,8.0 0 0 0 998.60,621.16 Q1001.6,618.50 1001.6,615.50 V595.00 Q1001.6,592.00 998.60,589.34 A52.69999999999999,8.0 0 0 0 899.20,589.34 Q896.2,592.00 896.2,595.00 Z"/></clipPath>
<path d="M896.2,595.00 V615.50 Q896.2,618.50 899.20,621.16 A52.69999999999999,8.0 0 0 0 998.60,621.16 Q1001.6,618.50 1001.6,615.50 V595.00 Q1001.6,592.00 998.60,589.34 A52.69999999999999,8.0 0 0 0 899.20,589.34 Q896.2,592.00 896.2,595.00 Z" fill="url(#bside4)"/>
<g clip-path="url(#bclip4)"><path d="M898.9,588.80 L999.1,588.55" stroke="#7a0010" stroke-width="0.38" stroke-opacity="0.81" fill="none"/>
<path d="M899.1,590.55 L1001.2,590.58" stroke="#7a0010" stroke-width="0.34" stroke-opacity="0.54" fill="none"/>
<path d="M899.6,592.29 L999.8,591.90" stroke="#7a0010" stroke-width="0.39" stroke-opacity="0.66" fill="none"/>
<path d="M899.4,594.09 L999.2,594.35" stroke="#7a0010" stroke-width="0.34" stroke-opacity="0.92" fill="none"/>
<path d="M897.2,596.41 L999.1,596.40" stroke="#7a0010" stroke-width="0.58" stroke-opacity="0.88" fill="none"/>
<path d="M897.7,598.74 L1000.3,598.59" stroke="#7a0010" stroke-width="0.47" stroke-opacity="0.66" fill="none"/>
<path d="M900.1,600.37 L999.5,600.41" stroke="#7a0010" stroke-width="0.55" stroke-opacity="0.88" fill="none"/>
<path d="M898.0,602.69 L1001.1,602.46" stroke="#7a0010" stroke-width="0.34" stroke-opacity="0.81" fill="none"/>
<path d="M898.6,604.77 L1000.4,604.47" stroke="#7a0010" stroke-width="0.38" stroke-opacity="0.68" fill="none"/>
<path d="M897.0,606.81 L1000.5,606.47" stroke="#7a0010" stroke-width="0.37" stroke-opacity="0.54" fill="none"/>
<path d="M899.1,609.03 L998.8,608.66" stroke="#7a0010" stroke-width="0.59" stroke-opacity="0.63" fill="none"/>
<path d="M898.8,610.68 L1001.1,610.61" stroke="#7a0010" stroke-width="0.54" stroke-opacity="0.90" fill="none"/>
<path d="M897.0,613.14 L999.0,613.04" stroke="#7a0010" stroke-width="0.57" stroke-opacity="0.88" fill="none"/>
<path d="M898.6,615.42 L999.4,615.19" stroke="#7a0010" stroke-width="0.34" stroke-opacity="0.98" fill="none"/>
<path d="M897.6,617.60 L999.4,617.48" stroke="#7a0010" stroke-width="0.47" stroke-opacity="0.75" fill="none"/>
<path d="M896.6,619.43 L1000.9,619.08" stroke="#7a0010" stroke-width="0.35" stroke-opacity="0.81" fill="none"/>
<path d="M896.4,621.64 L1000.3,621.51" stroke="#7a0010" stroke-width="0.47" stroke-opacity="0.73" fill="none"/>
<path d="M896.7,623.24 L1000.7,623.05" stroke="#7a0010" stroke-width="0.30" stroke-opacity="1.00" fill="none"/>
<path d="M897.7,625.40 L999.1,625.00" stroke="#7a0010" stroke-width="0.32" stroke-opacity="0.68" fill="none"/>
<path d="M898.8,590.40 L998.8,590.22" stroke="#f05050" stroke-width="0.23" stroke-opacity="0.75" fill="none"/>
<path d="M897.4,592.78 L999.5,592.70" stroke="#f05050" stroke-width="0.42" stroke-opacity="0.73" fill="none"/>
<path d="M899.8,595.95 L1000.5,595.76" stroke="#f05050" stroke-width="0.24" stroke-opacity="0.51" fill="none"/>
<path d="M898.4,599.16 L999.6,598.89" stroke="#f05050" stroke-width="0.39" stroke-opacity="0.47" fill="none"/>
<path d="M896.5,602.13 L1001.0,602.52" stroke="#f05050" stroke-width="0.24" stroke-opacity="0.57" fill="none"/>
<path d="M898.6,604.74 L999.0,604.89" stroke="#f05050" stroke-width="0.50" stroke-opacity="0.62" fill="none"/>
<path d="M896.9,606.91 L1001.3,607.21" stroke="#f05050" stroke-width="0.38" stroke-opacity="0.72" fill="none"/>
<path d="M897.1,609.68 L999.2,609.68" stroke="#f05050" stroke-width="0.26" stroke-opacity="0.63" fill="none"/>
<path d="M897.3,611.83 L1001.5,612.02" stroke="#f05050" stroke-width="0.45" stroke-opacity="0.44" fill="none"/>
<path d="M898.1,614.00 L999.5,614.03" stroke="#f05050" stroke-width="0.36" stroke-opacity="0.45" fill="none"/>
<path d="M898.6,616.68 L1001.3,616.66" stroke="#f05050" stroke-width="0.35" stroke-opacity="0.62" fill="none"/>
<path d="M896.5,619.04 L1001.2,619.20" stroke="#f05050" stroke-width="0.46" stroke-opacity="0.87" fill="none"/>
<path d="M900.0,621.90 L1000.3,621.77" stroke="#f05050" stroke-width="0.21" stroke-opacity="0.75" fill="none"/>
<path d="M897.4,624.75 L1001.0,624.85" stroke="#f05050" stroke-width="0.48" stroke-opacity="0.53" fill="none"/>
<rect x="896.2" y="584.0" width="105.39999999999998" height="42.5" fill="url(#vshade)"/>
<path d="M896.2,584.0 L1001.6,584.0 L1001.6,593.0 A52.69999999999999,11.0 0 0 1 896.2,593.0 Z" fill="#500008" opacity="0.3"/></g>
<linearGradient id="bside3" x1="0" x2="1" y1="0" y2="0"><stop offset="0" stop-color="#d6305a"/><stop offset="0.12" stop-color="#e8607e"/><stop offset="0.45" stop-color="#e65c7a"/><stop offset="0.72" stop-color="#e02e54"/><stop offset="1" stop-color="#d4244a"/></linearGradient>
<clipPath id="bclip3"><path d="M896.2,557.00 V579.00 Q896.2,582.00 899.20,584.66 A52.69999999999999,8.0 0 0 0 998.60,584.66 Q1001.6,582.00 1001.6,579.00 V557.00 Q1001.6,554.00 998.60,551.34 A52.69999999999999,8.0 0 0 0 899.20,551.34 Q896.2,554.00 896.2,557.00 Z"/></clipPath>
<path d="M896.2,557.00 V579.00 Q896.2,582.00 899.20,584.66 A52.69999999999999,8.0 0 0 0 998.60,584.66 Q1001.6,582.00 1001.6,579.00 V557.00 Q1001.6,554.00 998.60,551.34 A52.69999999999999,8.0 0 0 0 899.20,551.34 Q896.2,554.00 896.2,557.00 Z" fill="url(#bside3)"/>
<g clip-path="url(#bclip3)"><path d="M897.8,552.40 L999.5,552.11" stroke="#9a1030" stroke-width="0.30" stroke-opacity="0.44" fill="none"/>
<path d="M896.8,554.11 L999.4,554.24" stroke="#9a1030" stroke-width="0.37" stroke-opacity="0.70" fill="none"/>
<path d="M897.9,555.85 L998.6,555.52" stroke="#9a1030" stroke-width="0.46" stroke-opacity="0.58" fill="none"/>
<path d="M897.0,557.47 L1000.6,557.36" stroke="#9a1030" stroke-width="0.58" stroke-opacity="0.56" fill="none"/>
<path d="M898.5,560.02 L1000.0,560.39" stroke="#9a1030" stroke-width="0.36" stroke-opacity="0.49" fill="none"/>
<path d="M899.5,562.46 L998.6,562.09" stroke="#9a1030" stroke-width="0.41" stroke-opacity="0.48" fill="none"/>
<path d="M897.1,564.80 L999.2,564.98" stroke="#9a1030" stroke-width="0.56" stroke-opacity="0.66" fill="none"/>
<path d="M896.4,566.59 L1000.6,566.46" stroke="#9a1030" stroke-width="0.49" stroke-opacity="0.49" fill="none"/>
<path d="M900.0,568.59 L998.7,568.98" stroke="#9a1030" stroke-width="0.49" stroke-opacity="0.73" fill="none"/>
<path d="M898.7,570.98 L1000.0,571.12" stroke="#9a1030" stroke-width="0.39" stroke-opacity="0.47" fill="none"/>
<path d="M898.6,572.67 L999.5,572.35" stroke="#9a1030" stroke-width="0.36" stroke-opacity="0.77" fill="none"/>
<path d="M900.2,574.67 L1001.0,574.63" stroke="#9a1030" stroke-width="0.57" stroke-opacity="0.66" fill="none"/>
<path d="M898.4,577.07 L1001.2,576.75" stroke="#9a1030" stroke-width="0.43" stroke-opacity="0.72" fill="none"/>
<path d="M897.5,579.65 L999.5,579.94" stroke="#9a1030" stroke-width="0.34" stroke-opacity="0.48" fill="none"/>
<path d="M897.3,581.73 L1000.5,581.82" stroke="#9a1030" stroke-width="0.45" stroke-opacity="0.72" fill="none"/>
<path d="M896.8,583.97 L999.4,584.12" stroke="#9a1030" stroke-width="0.31" stroke-opacity="0.44" fill="none"/>
<path d="M899.3,586.54 L998.6,586.42" stroke="#9a1030" stroke-width="0.53" stroke-opacity="0.50" fill="none"/>
<path d="M896.9,588.15 L1001.5,587.85" stroke="#9a1030" stroke-width="0.41" stroke-opacity="0.51" fill="none"/>
<path d="M897.4,554.00 L998.9,554.00" stroke="#ffa0b4" stroke-width="0.27" stroke-opacity="0.49" fill="none"/>
<path d="M899.6,557.08 L1000.0,557.44" stroke="#ffa0b4" stroke-width="0.28" stroke-opacity="0.60" fill="none"/>
<path d="M899.2,560.40 L1001.2,560.01" stroke="#ffa0b4" stroke-width="0.34" stroke-opacity="0.40" fill="none"/>
<path d="M900.0,563.50 L1001.0,563.16" stroke="#ffa0b4" stroke-width="0.46" stroke-opacity="0.73" fill="none"/>
<path d="M896.8,565.68 L1001.5,565.32" stroke="#ffa0b4" stroke-width="0.49" stroke-opacity="0.44" fill="none"/>
<path d="M897.4,567.74 L998.8,567.47" stroke="#ffa0b4" stroke-width="0.34" stroke-opacity="0.47" fill="none"/>
<path d="M898.5,570.96 L999.3,571.03" stroke="#ffa0b4" stroke-width="0.43" stroke-opacity="0.63" fill="none"/>
<path d="M897.8,573.30 L998.6,573.24" stroke="#ffa0b4" stroke-width="0.33" stroke-opacity="0.50" fill="none"/>
<path d="M898.0,575.41 L999.5,575.08" stroke="#ffa0b4" stroke-width="0.37" stroke-opacity="0.73" fill="none"/>
<path d="M897.4,577.50 L1000.4,577.26" stroke="#ffa0b4" stroke-width="0.42" stroke-opacity="0.42" fill="none"/>
<path d="M899.0,579.56 L998.7,579.55" stroke="#ffa0b4" stroke-width="0.25" stroke-opacity="0.78" fill="none"/>
<path d="M898.3,582.99 L1000.1,582.77" stroke="#ffa0b4" stroke-width="0.47" stroke-opacity="0.65" fill="none"/>
<path d="M899.6,585.55 L1000.1,585.63" stroke="#ffa0b4" stroke-width="0.43" stroke-opacity="0.48" fill="none"/>
<path d="M897.2,588.78 L1001.6,588.41" stroke="#ffa0b4" stroke-width="0.41" stroke-opacity="0.46" fill="none"/>
<rect x="896.2" y="546.0" width="105.39999999999998" height="44.0" fill="url(#vshade)"/>
<path d="M896.2,546.0 L1001.6,546.0 L1001.6,555.0 A52.69999999999999,11.0 0 0 1 896.2,555.0 Z" fill="#8a0a28" opacity="0.18"/></g>
<linearGradient id="bside2" x1="0" x2="1" y1="0" y2="0"><stop offset="0" stop-color="#dca49c"/><stop offset="0.3" stop-color="#f4cbc0"/><stop offset="0.7" stop-color="#eebcb2"/><stop offset="1" stop-color="#d8988e"/></linearGradient>
<clipPath id="bclip2"><path d="M896.2,524.50 V541.00 Q896.2,544.00 899.20,546.66 A52.69999999999999,8.0 0 0 0 998.60,546.66 Q1001.6,544.00 1001.6,541.00 V524.50 Q1001.6,521.50 998.60,518.84 A52.69999999999999,8.0 0 0 0 899.20,518.84 Q896.2,521.50 896.2,524.50 Z"/></clipPath>
<path d="M896.2,524.50 V541.00 Q896.2,544.00 899.20,546.66 A52.69999999999999,8.0 0 0 0 998.60,546.66 Q1001.6,544.00 1001.6,541.00 V524.50 Q1001.6,521.50 998.60,518.84 A52.69999999999999,8.0 0 0 0 899.20,518.84 Q896.2,521.50 896.2,524.50 Z" fill="url(#bside2)"/>
<g clip-path="url(#bclip2)"><rect x="896.2" y="513.5" width="105.39999999999998" height="38.5" fill="url(#vshade)"/>
<path d="M903,540.5 C915,536.5 925,544.5 940,540.5 S965,537.5 980,542.5 S995,536.5 1000,535.5" stroke="#d04848" stroke-width="0.8" fill="none" opacity=".8"/><path d="M905,538.5 C918,542.5 930,537.5 945,542.5 S970,540.5 985,538.5 S996,533.5 1001,532.5" stroke="#6a98c8" stroke-width="0.9" fill="none" opacity=".85"/><path d="M922,540.5 C924,534.5 921,530.5 923,526.5" stroke="#d04848" stroke-width="0.8" fill="none"/><path d="M927,540.5 C929,534.5 926,529.5 928,525.5" stroke="#6a98c8" stroke-width="0.8" fill="none"/><path d="M958,542.5 C955,536.5 950,534.5 948,529.5" stroke="#d04848" stroke-width="0.8" fill="none"/><path d="M962,541.5 C960,535.5 958,532.5 955,528.5" stroke="#6a98c8" stroke-width="0.8" fill="none"/><path d="M966,542.5 C965,536.5 966,532.5 964,528.5" stroke="#d04848" stroke-width="0.8" fill="none"/></g>
<ellipse cx="948.9000000000001" cy="521.5" rx="52.69999999999999" ry="8.0" fill="#e2a8a0"/>
<linearGradient id="bside1" x1="0" x2="1" y1="0" y2="0"><stop offset="0" stop-color="#eeaa98"/><stop offset="0.3" stop-color="#f8cfc0"/><stop offset="0.7" stop-color="#f4bcaa"/><stop offset="1" stop-color="#eaa290"/></linearGradient>
<clipPath id="bclip1"><path d="M896.2,495.00 V507.50 Q896.2,510.50 899.20,513.16 A52.69999999999999,8.0 0 0 0 998.60,513.16 Q1001.6,510.50 1001.6,507.50 V495.00 Q1001.6,492.00 998.60,489.34 A52.69999999999999,8.0 0 0 0 899.20,489.34 Q896.2,492.00 896.2,495.00 Z"/></clipPath>
<path d="M896.2,495.00 V507.50 Q896.2,510.50 899.20,513.16 A52.69999999999999,8.0 0 0 0 998.60,513.16 Q1001.6,510.50 1001.6,507.50 V495.00 Q1001.6,492.00 998.60,489.34 A52.69999999999999,8.0 0 0 0 899.20,489.34 Q896.2,492.00 896.2,495.00 Z" fill="url(#bside1)"/>
<g clip-path="url(#bclip1)"><rect x="896.2" y="484.0" width="105.39999999999998" height="34.5" fill="url(#vshade)"/>
<path d="M918,516.5 C915,509.5 917,504.5 922,500.5" stroke="#8a6a8a" stroke-width="0.8" fill="none"/><path d="M940,500.5 C944,504.5 950,502.5 953,508.5 S955,515.5 956,517.5" stroke="#a05a6a" stroke-width="0.8" fill="none"/><path d="M962,502.5 C962,507.5 965,510.5 968,514.5" stroke="#7a90b8" stroke-width="0.8" fill="none"/></g>
<ellipse cx="948.9000000000001" cy="492.0" rx="52.69999999999999" ry="8.0" fill="#f6c4b4"/>
<ellipse cx="948.9000000000001" cy="492.0" rx="52.69999999999999" ry="8.0" fill="url(#topface)"/>
<path d="M942.8,472.8 C939.5,482.5 937.4,494.5 937,509.0 Q935.6,511.0 934.4,509.0 C934.6,494.5 937.5,482.5 942.2,472.8 Z" fill="#9c1430" stroke="#9c1430" stroke-width="0.5"/>
<path d="M1006,492.0 H1027.5 V513.25 H1006" stroke="#9a9a9a" stroke-width="0.9" fill="none"/>
<path d="M1006,520.75 H1027.5 V547.0 H1006" stroke="#9a9a9a" stroke-width="0.9" fill="none"/>
<path d="M1006,554.0 H1027.5 V584.5 H1006" stroke="#9a9a9a" stroke-width="0.9" fill="none"/>
<path d="M1006,589.5 H1027.5 V620.75 H1006" stroke="#9a9a9a" stroke-width="0.9" fill="none"/>
<path d="M1006,625.0 H1027.5 V655.75 H1006" stroke="#9a9a9a" stroke-width="0.9" fill="none"/>
<text x="1034" y="505.8" font-size="9.9" fill="#44586a" textLength="43.2" lengthAdjust="spacingAndGlyphs">Epidermis</text>
<text x="1034" y="532.0" font-size="9.9" fill="#44586a" textLength="65.7" lengthAdjust="spacingAndGlyphs">Surface vessels</text>
<text x="1034" y="544.5" font-size="9.9" fill="#44586a" textLength="48" lengthAdjust="spacingAndGlyphs">and nerves</text>
<text x="1034" y="570.5" font-size="9.9" fill="#44586a" textLength="70" lengthAdjust="spacingAndGlyphs">Surface muscles</text>
<text x="1034" y="608.3" font-size="9.9" fill="#44586a" textLength="61.2" lengthAdjust="spacingAndGlyphs">Deep muscles</text>
<text x="1034" y="635.8" font-size="9.9" fill="#44586a" textLength="50.7" lengthAdjust="spacingAndGlyphs">Deep nerve</text>
<text x="1034" y="648.3" font-size="9.9" fill="#44586a" textLength="23.5" lengthAdjust="spacingAndGlyphs">tracts</text>

<!-- footer -->
<text x="691.3" y="700.3" font-size="14" fill="#2f4456" textLength="442.5" lengthAdjust="spacingAndGlyphs">Study guide by B.P. Kulizhskiy,&#160; Y.Y. Starovoytov, M.A. Unakafov. Designed by E.A. Sergienko</text>
</svg>
</body></html>
